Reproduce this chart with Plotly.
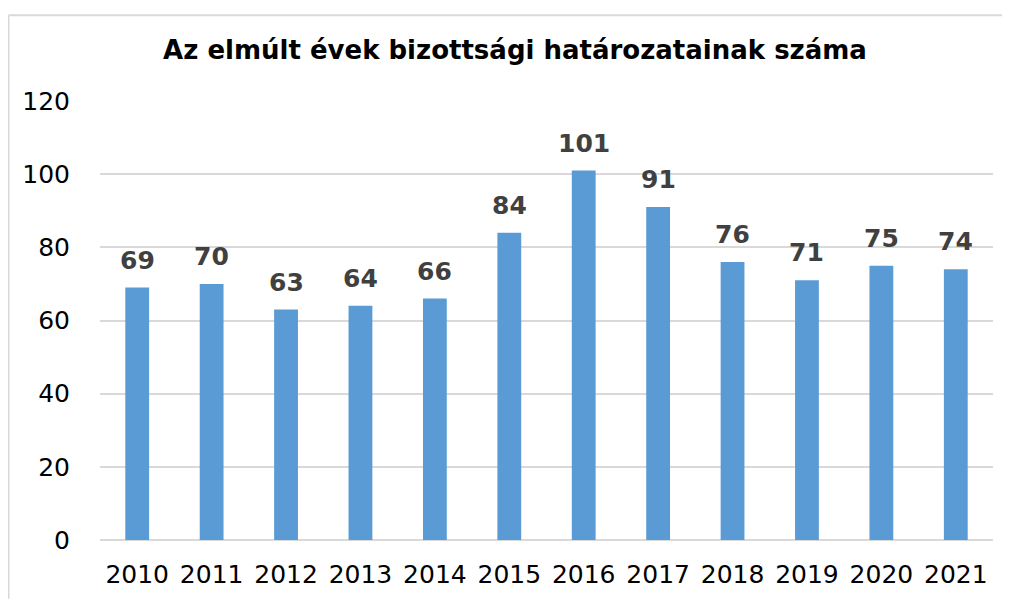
import plotly.graph_objects as go

years = ["2010", "2011", "2012", "2013", "2014", "2015", "2016", "2017", "2018", "2019", "2020", "2021"]
counts = [69, 70, 63, 64, 66, 84, 101, 91, 76, 71, 75, 74]
y_ticks = [0, 20, 40, 60, 80, 100, 120]
title_text = "Az elmúlt évek bizottsági határozatainak száma"

# page is shown with an 8px body margin, so figure coords = page coords - 8
W, H = 1002, 593
L, R, T, B = 92, 17, 93, 55
pw, ph = W - L - R, H - T - B

fig = go.Figure()
fig.add_trace(go.Bar(x=years, y=counts, marker=dict(color="#5B9BD5", line=dict(width=0)),
                     hoverinfo="x+y"))

for i, v in enumerate(counts):
    fig.add_annotation(x=i, y=v, text=str(v), showarrow=False, yanchor="bottom",
                       yshift=11, font=dict(family="DejaVu Sans", size=25, color="#404040", weight="bold"))

# chart border (left and top)
bx = (0.5 - L) / pw
ty = (H - B - 6) / ph
fig.add_shape(type="line", xref="paper", yref="paper", x0=bx, x1=bx, y0=-B / ph - 0.01, y1=ty,
              line=dict(color="#d9d9d9", width=2))
fig.add_shape(type="line", xref="paper", yref="paper", x0=bx, x1=(W - L) / pw + 0.01, y0=ty, y1=ty,
              line=dict(color="#d9d9d9", width=2))

fig.update_layout(
    width=W, height=H,
    margin=dict(l=L, r=R, t=T, b=B),
    paper_bgcolor="white", plot_bgcolor="white",
    bargap=0.68,
    showlegend=False,
    title=dict(text=title_text, x=(515 - 8) / W, xanchor="center", y=1 - 42 / H, yanchor="middle",
               font=dict(family="DejaVu Sans", size=26, color="black", weight="bold")),
    font=dict(family="DejaVu Sans", color="black"),
)
fig.update_xaxes(type="category", showgrid=False, showline=False, ticks="outside", ticklen=12,
                 tickcolor="rgba(0,0,0,0)", tickfont=dict(size=25, color="black"))
fig.update_yaxes(range=[0, 120], tickvals=y_ticks, showgrid=True, gridcolor="#d9d9d9", gridwidth=2,
                 zeroline=True, zerolinecolor="#d9d9d9", zerolinewidth=2, showline=False,
                 ticks="outside", ticklen=24, tickcolor="rgba(0,0,0,0)",
                 tickfont=dict(size=25, color="black"))

fig.write_html("out.html")
